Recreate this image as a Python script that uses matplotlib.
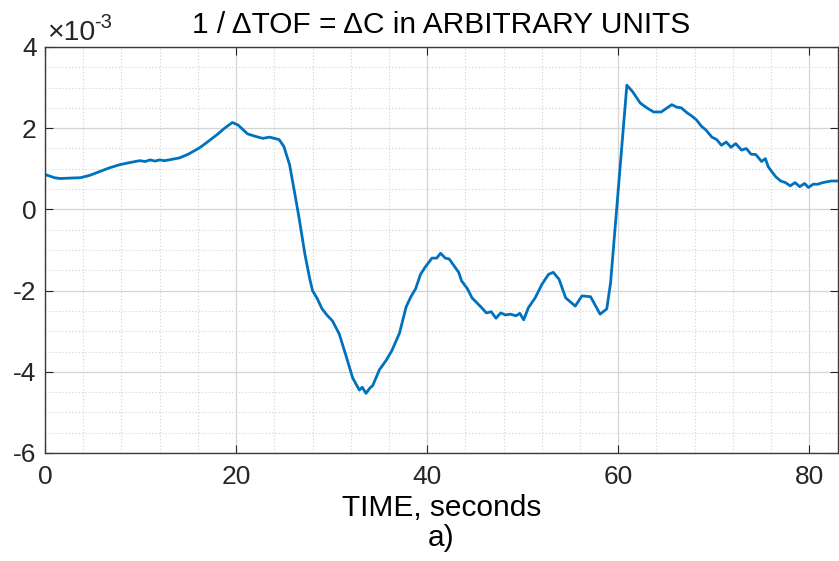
import matplotlib
matplotlib.use("Agg")
import matplotlib.pyplot as plt
from matplotlib.ticker import MultipleLocator

# ── Data (y in units of 1e-3) ────────────────────────────────────────────────
time_s = [
    0, 0.5, 1, 1.6, 2.5, 3.7, 4.7, 5.7, 6.7, 7.8, 8.8, 9.9, 10.5, 11, 11.5,
    12, 12.5, 13, 14.1, 15, 16.2, 17, 18, 18.8, 19.6, 20.2, 21.2, 22, 22.8,
    23.5, 24.5, 25, 25.6,
    26.1, 26.6, 27.2, 27.7, 28, 28.5, 29, 29.5, 30.1, 30.8, 31.5, 32.2, 32.9,
    33.2, 33.6, 34.0, 34.3, 35, 35.7, 36.3, 37.1, 37.8, 38.3, 38.8, 39.3,
    39.8, 40.5, 41, 41.4, 41.9, 42.3, 43.3, 43.6, 44.2, 44.7, 45.2, 45.7,
    46.2, 46.7, 47.2, 47.7, 48.2, 48.7, 49.3, 49.7, 50.1, 50.6, 51.3, 52,
    52.7, 53.2, 53.8, 54.5, 55.5, 56.2, 57.1, 58.1, 58.8, 59.2,
    60.9, 61.5, 62.3, 63.0, 63.7, 64.5, 65.1, 65.6, 66.1, 66.6, 67.2, 67.7,
    68.2, 68.7, 69.2, 69.8, 70.3, 70.8, 71.3, 71.8, 72.3, 72.9, 73.4, 73.9,
    74.4, 75, 75.4, 75.7, 76.1, 76.5, 77, 77.5, 78, 78.5, 79, 79.5, 79.9,
    80.4, 80.9, 81.4, 82.3, 83,
]
delta_c_e3 = [
    0.86, 0.82, 0.78, 0.76, 0.77, 0.78, 0.84, 0.93, 1.02, 1.10, 1.15, 1.20,
    1.18, 1.22, 1.19, 1.22, 1.20, 1.22, 1.27, 1.36, 1.52, 1.66, 1.84, 2.00,
    2.14, 2.08, 1.86, 1.80, 1.75, 1.78, 1.72, 1.55, 1.10,
    0.45, -0.22, -1.10, -1.70, -2.00, -2.20, -2.45, -2.60, -2.75, -3.07,
    -3.60, -4.15, -4.45, -4.38, -4.53, -4.40, -4.34, -3.95, -3.72, -3.48,
    -3.05, -2.40, -2.15, -1.95, -1.60, -1.42, -1.20, -1.20, -1.08, -1.20,
    -1.22, -1.55, -1.76, -1.95, -2.18, -2.30, -2.42, -2.55, -2.52, -2.68,
    -2.55, -2.60, -2.58, -2.62, -2.56, -2.72, -2.42, -2.18, -1.85, -1.60,
    -1.55, -1.72, -2.18, -2.38, -2.13, -2.15, -2.58, -2.45, -1.80,
    3.06, 2.90, 2.62, 2.50, 2.40, 2.40, 2.50, 2.58, 2.52, 2.50, 2.38, 2.30,
    2.20, 2.05, 1.95, 1.78, 1.72, 1.58, 1.66, 1.53, 1.62, 1.46, 1.50, 1.36,
    1.35, 1.18, 1.25, 1.05, 0.92, 0.80, 0.70, 0.66, 0.58, 0.66, 0.56, 0.64,
    0.54, 0.62, 0.62, 0.66, 0.70, 0.70,
]

C_LINE = "#0072BD"
C_TEXT = "#262626"

plt.rcParams["font.family"] = ["Liberation Sans", "DejaVu Sans"]
plt.rcParams["axes.unicode_minus"] = False

fig = plt.figure(figsize=(8.39, 5.61), dpi=100)
ax = fig.add_axes([45 / 839, 108 / 561, 793 / 839, 406 / 561])

ax.plot(time_s, delta_c_e3, color=C_LINE, lw=2.0)

ax.set_xlim(0, 83)
ax.set_ylim(-6, 4)
ax.xaxis.set_major_locator(MultipleLocator(20))
ax.xaxis.set_minor_locator(MultipleLocator(4))
ax.yaxis.set_major_locator(MultipleLocator(2))
ax.yaxis.set_minor_locator(MultipleLocator(0.5))

ax.grid(which="major", color="#d4d4d4", lw=0.9)
ax.grid(which="minor", color="#d8d8d8", lw=0.8, ls=(0, (1.2, 1.8)))
ax.set_axisbelow(True)

ax.tick_params(which="both", direction="in", top=True, right=True,
               colors=C_TEXT, labelsize=19)
ax.tick_params(which="major", length=6, width=0.8)
ax.tick_params(which="minor", length=0)
ax.tick_params(axis="x", pad=9)
ax.tick_params(axis="y", pad=6)
for s in ax.spines.values():
    s.set_color("#3a3a3a")
    s.set_linewidth(1.0)

ax.set_title("1 / \u0394TOF = \u0394C in ARBITRARY UNITS", fontsize=21.5,
             color="black", pad=10)
ax.set_xlabel("TIME, seconds\na)", fontsize=21.5, color="black",
              labelpad=3, linespacing=1.12)

# exponent label above the frame, MATLAB style
ax.text(0.003, 1.017, "\u00d710", transform=ax.transAxes,
        fontsize=20.5, color=C_TEXT, ha="left", va="baseline")
ax.text(0.062, 1.047, "-3", transform=ax.transAxes,
        fontsize=14.5, color=C_TEXT, ha="left", va="baseline")

fig.savefig("out.png", dpi=100, facecolor="white")
